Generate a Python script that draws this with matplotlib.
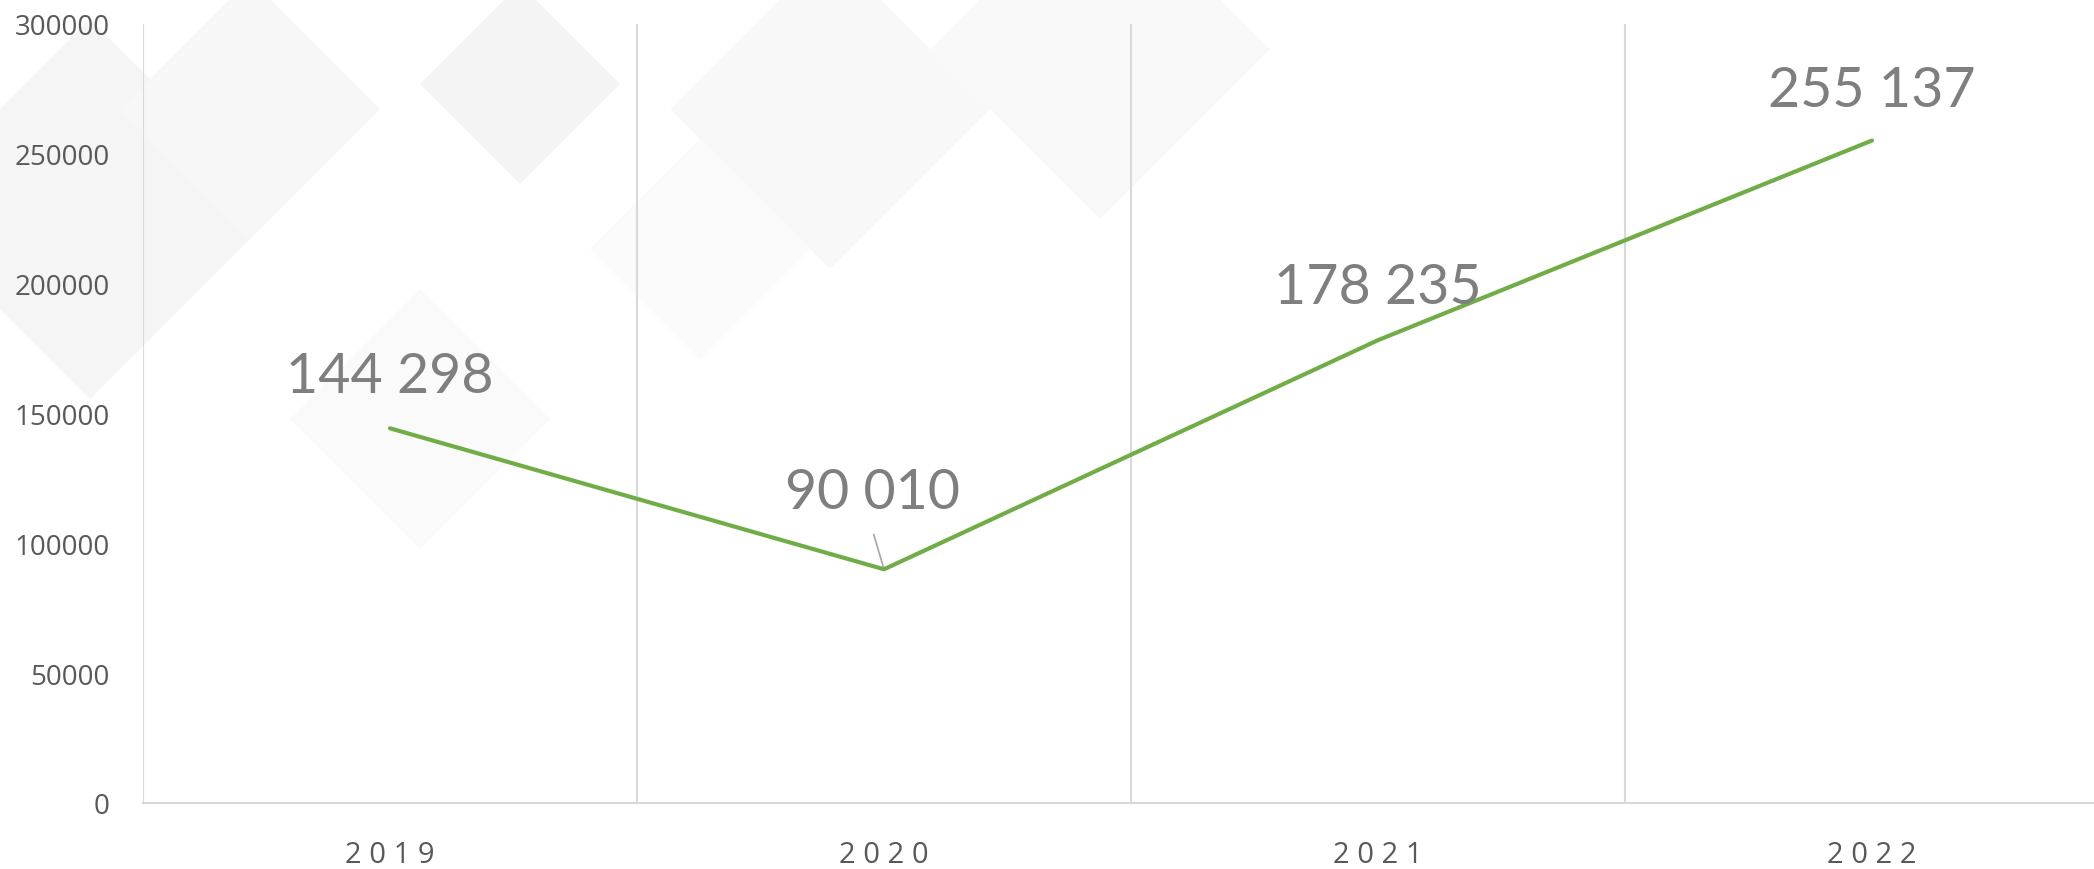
import matplotlib
matplotlib.use("Agg")
import matplotlib.pyplot as plt
from matplotlib.patches import Polygon

# data
years = ["2019", "2020", "2021", "2022"]
values = [144298, 90010, 178235, 255137]
labels = ["144 298", "90 010", "178 235", "255 137"]
label_offsets = [(0, 37), (-8, 55), (0, 38), (0, 36)]  # points, relative to marker
y_ticks = [0, 50000, 100000, 150000, 200000, 250000, 300000]

line_color = "#70AD47"
grid_color = "#D9D9D9"

fig = plt.figure(figsize=(20.94, 8.7), dpi=100)
fig.patch.set_facecolor("white")

# very faint diamond pattern in the background
bg = fig.add_axes([0, 0, 1, 1], zorder=0)
bg.set_xlim(0, 2094)
bg.set_ylim(870, 0)
bg.axis("off")
diamonds = [
    (520, 85, 100, "#F4F4F4"), (90, 210, 190, "#F5F5F5"), (830, 110, 160, "#F8F8F9"),
    (420, 420, 130, "#FAFAFA"), (1100, 50, 170, "#F9F9FA"), (250, 110, 130, "#F7F7F8"),
    (700, 250, 110, "#FBFBFC"),
]
for cx, cy, r, c in diamonds:
    bg.add_patch(Polygon([(cx, cy - r), (cx + r, cy), (cx, cy + r), (cx - r, cy)],
                         closed=True, facecolor=c, edgecolor="none"))

ax = fig.add_axes([143 / 2094, 66 / 870, 1976 / 2094, 779 / 870], zorder=1)
ax.patch.set_alpha(0)

x = list(range(len(years)))
ax.plot(x, values, color=line_color, lw=3, solid_capstyle="round", zorder=3)

for i, (v, lab) in enumerate(zip(values, labels)):
    dx, dy = label_offsets[i]
    ax.annotate(lab, xy=(i, v), xytext=(dx, dy), textcoords="offset points",
                ha="center", va="center", fontsize=40, color="#7F7F7F",
                family="Lato", zorder=4)
# leader line for the 2020 label
ax.annotate("", xy=(1, values[1]), xytext=(-8, 27), textcoords="offset points",
            arrowprops=dict(arrowstyle="-", color="#A6A6A6", lw=1.2))

ax.set_xlim(-0.5, len(years) - 0.5)
ax.set_ylim(0, 300000)
ax.set_yticks(y_ticks)
ax.set_yticklabels([str(t) for t in y_ticks], fontsize=20, color="#595959", family="Open Sans")
ax.set_xticks(x)
# spaced-out year labels
ax.set_xticklabels([" ".join(y) for y in years], fontsize=21, color="#595959", family="Open Sans")
ax.tick_params(axis="both", length=0)
ax.tick_params(axis="y", pad=24)
ax.tick_params(axis="x", pad=27)

for b in [i - 0.5 for i in range(len(years) + 1)]:
    ax.axvline(b, color=grid_color, lw=1.5, zorder=1)

for s in ["top", "right", "left"]:
    ax.spines[s].set_visible(False)
ax.spines["bottom"].set_color(grid_color)
ax.spines["bottom"].set_linewidth(1.5)

fig.savefig("out.png", dpi=100)
